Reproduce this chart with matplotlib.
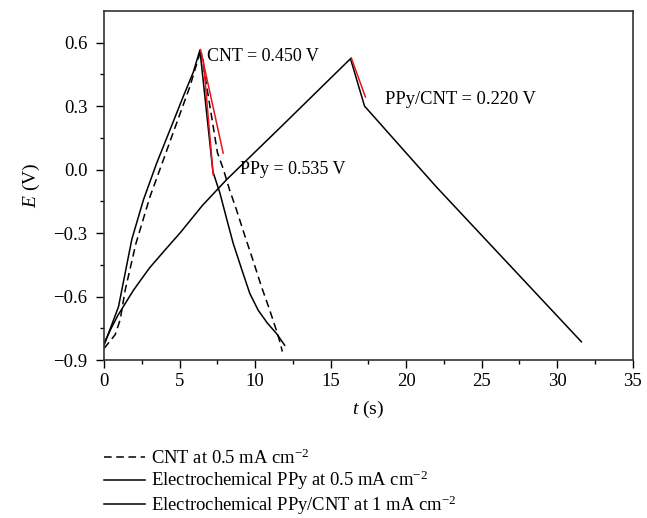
import matplotlib
matplotlib.use("Agg")
import matplotlib.pyplot as plt

plt.rcParams["font.family"] = ["Liberation Serif", "DejaVu Serif"]
plt.rcParams["mathtext.fontset"] = "custom"
plt.rcParams["mathtext.rm"] = "Liberation Serif"
plt.rcParams["mathtext.it"] = "Liberation Serif:italic"

# CNT at 0.5 mA cm-2 (dashed)
cnt_t = [0.0, 0.73, 1.06, 1.39, 2.1, 3.04, 3.92, 4.8, 5.68, 6.4,
         7.0, 7.5, 7.9, 8.3, 8.76, 9.3, 9.86, 10.4, 10.96, 11.5, 11.8]
cnt_e = [-0.845, -0.78, -0.71, -0.57, -0.35, -0.127, 0.046, 0.22, 0.393, 0.565,
         0.3, 0.08, 0.0, -0.095, -0.19, -0.31, -0.43, -0.55, -0.664, -0.78, -0.86]

# electrochemical PPy at 0.5 mA cm-2
ppy_t = [0.0, 0.95, 1.83, 2.6, 3.48, 4.36, 5.24, 5.9, 6.34,
         7.2, 7.66, 8.1, 8.54, 9.1, 9.64, 10.2, 10.8, 11.4, 11.95]
ppy_e = [-0.829, -0.648, -0.33, -0.143, 0.031, 0.188, 0.346, 0.46, 0.565,
         -0.01, -0.11, -0.23, -0.348, -0.47, -0.585, -0.665, -0.725, -0.774, -0.83]

# electrochemical PPy/CNT at 1 mA cm-2
ppycnt_t = [0.0, 0.5, 0.9, 1.94, 3.0, 4.03, 5.02, 6.5, 8.1, 11.62, 16.31,
            17.24, 21.97, 31.6]
ppycnt_e = [-0.82, -0.745, -0.69, -0.57, -0.465, -0.38, -0.30, -0.17, -0.048, 0.196, 0.524,
            0.30, -0.08, -0.814]

# IR drop tangents (red)
ir_cnt_t = [6.38, 7.88]
ir_cnt_e = [0.567, 0.078]
ir_ppy_t = [6.56, 7.22]
ir_ppy_e = [0.52, -0.025]
ir_ppycnt_t = [16.36, 17.3]
ir_ppycnt_e = [0.528, 0.343]

xticks = [0, 5, 10, 15, 20, 25, 30, 35]
yticks = [-0.9, -0.6, -0.3, 0.0, 0.3, 0.6]


def main():
    fig = plt.figure(figsize=(6.47, 5.18), dpi=100)
    ax = fig.add_axes([0.161, 0.305, 0.817, 0.674])

    l1, = ax.plot(cnt_t, cnt_e, "k--", lw=1.1, dashes=(5, 3),
                  label=r"CNT at 0.5 mA cm$^{-2}$")
    l2, = ax.plot(ppy_t, ppy_e, "k-", lw=1.1,
                  label=r"Electrochemical PPy at 0.5 mA cm$^{-2}$")
    l3, = ax.plot(ppycnt_t, ppycnt_e, "k-", lw=1.1,
                  label=r"Electrochemical PPy/CNT at 1 mA cm$^{-2}$")

    for tt, ee in [(ir_cnt_t, ir_cnt_e), (ir_ppy_t, ir_ppy_e),
                   (ir_ppycnt_t, ir_ppycnt_e)]:
        ax.plot(tt, ee, color="#e8141c", lw=1.1)

    # annotations
    ax.text(6.8, 0.534, "CNT = 0.450 V", fontsize=13, va="center")
    ax.text(9.0, 0.0, "PPy = 0.535 V", fontsize=13, va="center")
    ax.text(18.6, 0.33, "PPy/CNT = 0.220 V", fontsize=13.3, va="center")

    ax.set_xlim(0, 35)
    ax.set_ylim(-0.9, 0.75)
    ax.set_xticks(xticks)
    ax.set_yticks(yticks)
    ax.set_xticklabels([str(v) for v in xticks])
    ax.set_yticklabels(["\u2212%.1f" % abs(v) if v < 0 else "%.1f" % v for v in yticks])
    ax.set_xticks([2.5 + 5 * i for i in range(7)], minor=True)
    ax.set_yticks([-0.75, -0.45, -0.15, 0.15, 0.45], minor=True)
    ax.tick_params(which="major", direction="out", length=6, width=1,
                   labelsize=13.5, top=False, right=False)
    ax.tick_params(axis="y", which="major", pad=6)
    ax.tick_params(which="minor", direction="out", length=3, width=1,
                   top=False, right=False)

    for sp in ax.spines.values():
        sp.set_color("#333333")
        sp.set_linewidth(1.2)

    ax.set_xlabel(r"$\mathit{t}$ (s)", fontsize=14, labelpad=6)
    ax.set_ylabel(r"$\mathit{E}$ (V)", fontsize=14, labelpad=8)

    ax.legend(handles=[l1, l2, l3], loc="upper left",
              bbox_to_anchor=(-0.015, -0.232), frameon=False, fontsize=13.4,
              handlelength=2.2, handletextpad=0.35, labelspacing=0.05,
              borderaxespad=0)

    fig.savefig("out.png", dpi=100)


if __name__ == "__main__":
    main()
